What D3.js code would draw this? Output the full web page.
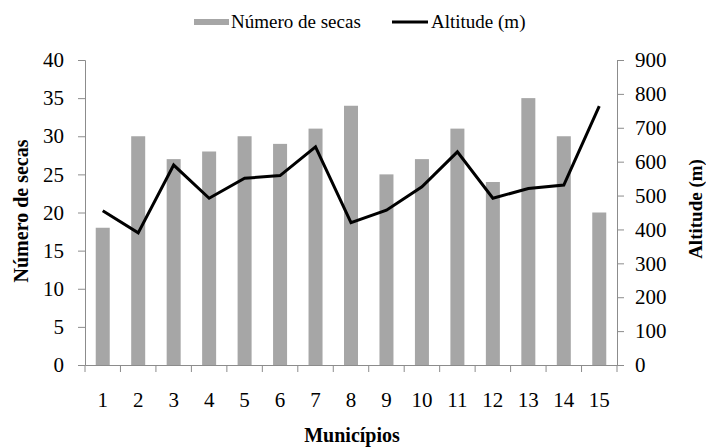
<!DOCTYPE html>
<html><head><meta charset="utf-8">
<script src="https://cdn.jsdelivr.net/npm/d3@7"></script>
<style>body{margin:0;background:#fff}svg{display:block}</style>
</head><body><svg id="c" width="706" height="448"></svg>
<script>
const categories = ["1","2","3","4","5","6","7","8","9","10","11","12","13","14","15"];
const numeroSecas = [18,30,27,28,30,29,31,34,25,27,31,24,35,30,20];
const altitude = [455,390,590,492,551,559,644,420,457,526,629,492,521,531,764];
const leftTicks = [0,5,10,15,20,25,30,35,40];
const rightTicks = [0,100,200,300,400,500,600,700,800,900];

const FONT = "Liberation Serif";
const svg = d3.select("#c").attr("font-family", FONT);
const L = 85, R = 617, T = 60, B = 365;
const axisColor = "#8c8c8c";
const xb = d3.scaleBand().domain(categories).range([L, R]);
const yL = d3.scaleLinear().domain([0, 40]).range([B, T]);
const yR = d3.scaleLinear().domain([0, 900]).range([B, T]);

// bars
svg.append("g").selectAll("rect").data(numeroSecas).join("rect")
  .attr("x", (d, i) => xb(categories[i]) + xb.bandwidth() / 2 - 7)
  .attr("width", 14)
  .attr("y", d => yL(d))
  .attr("height", d => B - yL(d))
  .attr("fill", "#a6a6a6");

// axes
const gL = svg.append("g").attr("transform", `translate(${L},0)`)
  .call(d3.axisLeft(yL).tickValues(leftTicks).tickSize(7).tickPadding(14));
const gR = svg.append("g").attr("transform", `translate(${R},0)`)
  .call(d3.axisRight(yR).tickValues(rightTicks).tickSize(7).tickPadding(11));
const gX = svg.append("g").attr("transform", `translate(0,${B})`)
  .call(d3.axisBottom(xb).tickSize(0).tickPadding(27));
[gL, gR, gX].forEach(g => {
  g.attr("font-family", FONT).attr("font-size", 21);
  g.select(".domain").attr("stroke", axisColor);
  g.selectAll(".tick line").attr("stroke", axisColor);
  g.selectAll("text").attr("fill", "#000").attr("font-family", FONT);
});
// x ticks at band boundaries
svg.append("g").selectAll("line").data(d3.range(categories.length + 1)).join("line")
  .attr("x1", i => L + i * xb.step()).attr("x2", i => L + i * xb.step())
  .attr("y1", B).attr("y2", B + 7).attr("stroke", axisColor);

// line
const line = d3.line().x((d, i) => xb(categories[i]) + xb.bandwidth() / 2).y(d => yR(d));
svg.append("path").datum(altitude).attr("d", line)
  .attr("fill", "none").attr("stroke", "#000").attr("stroke-width", 3).attr("stroke-linejoin", "miter");

// axis titles
svg.append("text").attr("transform", `translate(28,211) rotate(-90)`)
  .attr("text-anchor", "middle").attr("font-size", 20).attr("font-weight", "bold").text("Número de secas");
svg.append("text").attr("transform", `translate(702,209) rotate(-90)`)
  .attr("text-anchor", "middle").attr("font-size", 19).attr("font-weight", "bold").text("Altitude (m)");
svg.append("text").attr("x", 352).attr("y", 442)
  .attr("text-anchor", "middle").attr("font-size", 20).attr("font-weight", "bold").text("Municípios");

// legend
const lg = svg.append("g");
lg.append("rect").attr("x", 194).attr("y", 19).attr("width", 35).attr("height", 6).attr("fill", "#a6a6a6");
lg.append("text").attr("x", 231).attr("y", 28).attr("font-size", 19).text("Número de secas");
lg.append("line").attr("x1", 392).attr("x2", 428).attr("y1", 22).attr("y2", 22).attr("stroke", "#000").attr("stroke-width", 3);
lg.append("text").attr("x", 431).attr("y", 28).attr("font-size", 19).text("Altitude (m)");
</script></body></html>
